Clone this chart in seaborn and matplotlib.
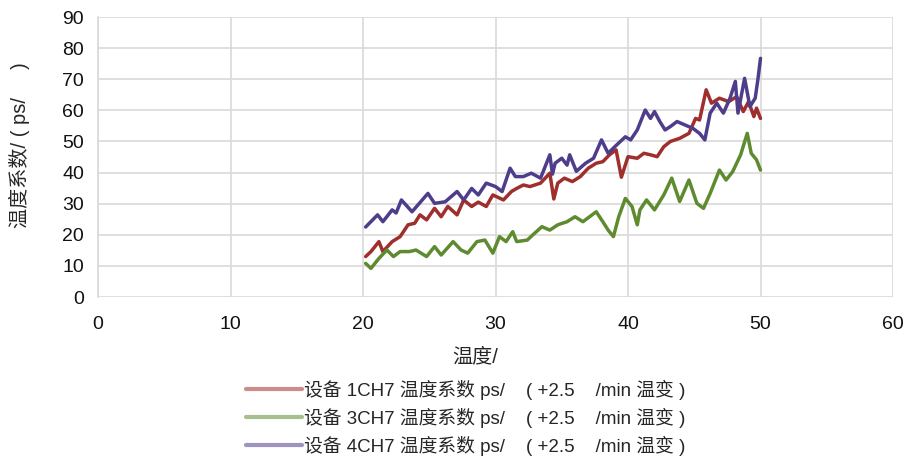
import matplotlib
matplotlib.use("Agg")
import matplotlib.pyplot as plt
import seaborn as sns
import pandas as pd

# Temperature coefficient readings (x: temperature, y: coefficient) per device
dev1_x = [20.2, 20.6, 21.2, 21.5, 22.2, 22.8, 23.4, 23.9, 24.3, 24.8, 25.4, 25.9,
          26.4, 27.1, 27.6, 28.2, 28.7, 29.3, 29.8, 30.6, 31.2, 31.6, 32.1, 32.6,
          33.4, 34.1, 34.4, 34.7, 35.2, 35.8, 36.4, 37.0, 37.6, 38.1, 38.6, 39.1,
          39.5, 40.0, 40.7, 41.2, 41.7, 42.2, 42.7, 43.2, 43.9, 44.6, 45.1, 45.4,
          45.9, 46.3, 46.9, 47.6, 48.2, 48.7, 49.1, 49.5, 49.7, 50.0]
dev1_y = [13.0, 14.6, 17.8, 14.6, 17.8, 19.4, 23.2, 23.7, 26.4, 24.8, 28.5, 25.8,
          29.1, 26.4, 31.2, 29.1, 30.5, 29.1, 32.8, 31.2, 33.9, 34.9, 36.0, 35.5,
          36.6, 39.8, 31.5, 36.6, 38.2, 37.1, 38.7, 41.4, 43.0, 43.5, 45.7, 47.3,
          38.5, 45.1, 44.6, 46.2, 45.7, 45.1, 48.3, 50.0, 51.0, 52.6, 57.4, 56.9,
          66.6, 62.3, 63.9, 62.8, 64.4, 59.6, 62.8, 58.0, 60.7, 57.4]

dev3_x = [20.2, 20.6, 21.2, 21.8, 22.3, 22.8, 23.5, 24.0, 24.8, 25.4, 25.9, 26.8,
          27.4, 27.9, 28.6, 29.2, 29.8, 30.3, 30.8, 31.3, 31.6, 32.4, 32.8, 33.5,
          34.1, 34.7, 35.4, 36.0, 36.6, 37.1, 37.6, 38.1, 38.5, 38.9, 39.3, 39.8,
          40.3, 40.7, 40.9, 41.4, 42.0, 42.7, 43.3, 43.9, 44.6, 45.2, 45.7, 46.2,
          46.9, 47.4, 47.9, 48.5, 49.0, 49.3, 49.7, 50.0]
dev3_y = [10.8, 9.2, 12.4, 15.1, 13.0, 14.6, 14.6, 15.1, 13.0, 16.2, 13.5, 17.8,
          15.1, 14.1, 17.8, 18.3, 14.1, 19.4, 17.8, 21.0, 17.8, 18.3, 19.9, 22.6,
          21.5, 23.2, 24.2, 25.8, 24.2, 25.8, 27.4, 24.2, 21.5, 19.4, 25.8, 31.7,
          29.1, 23.2, 28.0, 31.2, 28.0, 32.8, 38.2, 30.7, 37.6, 30.1, 28.5, 33.3,
          40.8, 37.6, 40.3, 45.7, 52.6, 46.2, 44.1, 40.8]

dev4_x = [20.2, 21.1, 21.5, 22.2, 22.5, 22.9, 23.7, 24.9, 25.4, 26.2, 27.1, 27.6,
          28.2, 28.7, 29.3, 30.0, 30.5, 31.1, 31.5, 32.1, 32.7, 33.4, 34.1, 34.3,
          34.5, 35.0, 35.4, 35.6, 36.1, 36.8, 37.4, 38.0, 38.5, 39.0, 39.8, 40.2,
          40.7, 41.3, 41.7, 42.0, 42.4, 42.8, 43.2, 43.7, 44.3, 44.9, 45.4, 45.8,
          46.2, 46.7, 47.2, 47.7, 48.1, 48.3, 48.8, 49.2, 49.6, 49.8, 50.0]
dev4_y = [22.5, 26.4, 24.2, 28.0, 27.0, 31.2, 27.4, 33.3, 30.1, 30.6, 33.9, 31.2,
          34.9, 32.8, 36.6, 35.5, 33.9, 41.4, 38.7, 38.7, 39.8, 38.2, 45.7, 39.5,
          43.0, 44.6, 42.4, 45.7, 40.4, 43.0, 44.6, 50.5, 46.2, 48.3, 51.5, 50.5,
          53.7, 60.1, 57.4, 59.6, 56.4, 53.7, 54.8, 56.4, 55.3, 54.2, 52.6, 50.5,
          59.1, 62.3, 59.1, 63.9, 69.3, 59.1, 70.3, 61.2, 63.9, 69.8, 76.7]

series_labels = [
    "设备 1CH7 温度系数 ps/    ( +2.5    /min 温变 )",
    "设备 3CH7 温度系数 ps/    ( +2.5    /min 温变 )",
    "设备 4CH7 温度系数 ps/    ( +2.5    /min 温变 )",
]
series_colors = ["#9E2F2D", "#5F8B30", "#4E3D8B"]

x_ticks = [0, 10, 20, 30, 40, 50, 60]
y_ticks = [0, 10, 20, 30, 40, 50, 60, 70, 80, 90]

frames = []
for lab, xs, ys in zip(series_labels,
                       [dev1_x, dev3_x, dev4_x],
                       [dev1_y, dev3_y, dev4_y]):
    frames.append(pd.DataFrame({"温度": xs, "系数": ys, "设备": lab}))
df = pd.concat(frames, ignore_index=True)

sns.set_theme(style="white")
plt.rcParams["font.family"] = ["Liberation Sans", "Noto Sans CJK SC", "DejaVu Sans"]

fig = plt.figure(figsize=(9.10, 4.62), dpi=100)
ax = fig.add_axes([98 / 910, 1 - 297 / 462, 795 / 910, 280 / 462])

sns.lineplot(data=df, x="温度", y="系数", hue="设备",
             palette=dict(zip(series_labels, series_colors)),
             estimator=None, sort=False, linewidth=2.5, ax=ax, legend=False)

grid_c = "#d9d9d9"
ax.set_xlim(0, 60)
ax.set_ylim(0, 90)
ax.set_xticks(x_ticks)
ax.set_yticks(y_ticks)
ax.grid(True, color=grid_c, linewidth=1.2)
ax.set_axisbelow(True)
for side in ["top", "right", "bottom"]:
    ax.spines[side].set_visible(False)
ax.spines["left"].set_color(grid_c)
ax.spines["left"].set_linewidth(1.2)
ax.tick_params(axis="both", which="both", length=6, width=1.2, color=grid_c,
               labelsize=14, labelcolor="#111111", direction="out")
ax.tick_params(axis="x", pad=8)
ax.tick_params(axis="y", pad=4)

ax.set_xlabel("温度/", fontsize=14.5)
ax.set_ylabel("温度系数/ ( ps/     )", fontsize=14.5)
ax.xaxis.set_label_coords(0.475, -0.18)
ax.yaxis.set_label_coords(-0.085, 0.543)

handles = [plt.Line2D([], [], color=c, linewidth=3, alpha=0.55) for c in series_colors]
fig.legend(handles, series_labels, loc="center",
           bbox_to_anchor=(466 / 910, 0.096), frameon=False, fontsize=13.5,
           handlelength=3.0, handletextpad=0.1, labelspacing=0.42,
           borderpad=0.2)

fig.savefig("out.png", dpi=100)
